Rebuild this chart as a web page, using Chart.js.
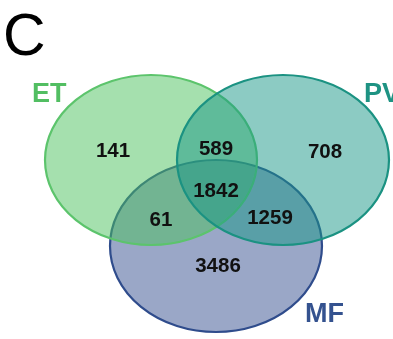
<!DOCTYPE html>
<html>
<head>
<meta charset="utf-8">
<script src="https://cdn.jsdelivr.net/npm/chart.js@4"></script>
<style>
  html, body { margin: 0; padding: 0; background: #fff; }
  canvas { display: block; }
</style>
</head>
<body>
<canvas id="venn" width="393" height="339"></canvas>
<script>
// set names and region counts
var setNames = ['ET', 'PV', 'MF'];
var regionNames = ['ET', 'ET+PV', 'PV', 'ET+PV+MF', 'ET+MF', 'PV+MF', 'MF'];
var regionCounts = [141, 589, 708, 1842, 61, 1259, 3486];

// layout (chart units = pixels of the 393x339 panel)
var ellipses = [
    { cx: 151, cy: 160, rx: 106, ry: 85, fill: 'rgba(76,193,94,0.5)', stroke: '#5cc46c', text: '#52be62', lx: 32, ly: 102 },
    { cx: 283, cy: 160, rx: 106, ry: 85, fill: 'rgba(26,151,136,0.5)', stroke: '#1b9282', text: '#1e9383', lx: 364, ly: 102 },
    { cx: 216, cy: 246, rx: 106, ry: 86, fill: 'rgba(53,79,143,0.5)', stroke: '#2f4c8c', text: '#34528f', lx: 305, ly: 322 }
];
var drawOrder = [2, 0, 1]; // MF at the bottom, PV on top
var regionPos = [
    { x: 113, y: 150 }, { x: 216, y: 148 }, { x: 325, y: 151 },
    { x: 216, y: 190 }, { x: 161, y: 219 }, { x: 270, y: 217 }, { x: 218, y: 265 }
];

var vennPlugin = {
    id: 'venn',
    beforeDatasetsDraw: function (chart) {
        var ctx = chart.ctx, xs = chart.scales.x, ys = chart.scales.y;
        ctx.save();
        drawOrder.forEach(function (k) {
            var e = ellipses[k];
            var cx = xs.getPixelForValue(e.cx), cy = ys.getPixelForValue(e.cy);
            var rx = Math.abs(xs.getPixelForValue(e.cx + e.rx) - cx);
            var ry = Math.abs(ys.getPixelForValue(e.cy + e.ry) - cy);
            ctx.beginPath();
            ctx.ellipse(cx, cy, rx, ry, 0, 0, Math.PI * 2);
            ctx.fillStyle = e.fill;
            ctx.fill();
            ctx.lineWidth = 2.2;
            ctx.strokeStyle = e.stroke;
            ctx.stroke();
        });
        ctx.restore();
    },
    afterDatasetsDraw: function (chart) {
        var ctx = chart.ctx, xs = chart.scales.x, ys = chart.scales.y;
        var meta = chart.getDatasetMeta(0);
        ctx.save();
        // region counts
        ctx.font = 'bold 20.5px "Liberation Sans", Arial, sans-serif';
        ctx.fillStyle = '#111';
        ctx.textAlign = 'center';
        ctx.textBaseline = 'middle';
        meta.data.forEach(function (pt, i) {
            ctx.fillText(String(regionCounts[i]), pt.x, pt.y + 1);
        });
        // set labels
        ctx.font = 'bold 27px "Liberation Sans", Arial, sans-serif';
        ctx.textAlign = 'left';
        ctx.textBaseline = 'alphabetic';
        ellipses.forEach(function (e, i) {
            ctx.fillStyle = e.text;
            ctx.fillText(setNames[i], xs.getPixelForValue(e.lx), ys.getPixelForValue(e.ly));
        });
        // panel letter
        ctx.font = '59px "Liberation Sans", Arial, sans-serif';
        ctx.fillStyle = '#000';
        ctx.fillText('C', xs.getPixelForValue(3), ys.getPixelForValue(55));
        ctx.restore();
    }
};

new Chart(document.getElementById('venn'), {
    type: 'scatter',
    data: {
        labels: regionNames,
        datasets: [{
            label: 'regions',
            data: regionPos,
            pointRadius: 0,
            pointHoverRadius: 0
        }]
    },
    options: {
        responsive: false,
        animation: false,
        layout: { padding: 0 },
        plugins: { legend: { display: false }, tooltip: { enabled: false } },
        scales: {
            x: { type: 'linear', min: 0, max: 393, display: false },
            y: { type: 'linear', min: 0, max: 339, reverse: true, display: false }
        }
    },
    plugins: [vennPlugin]
});
</script>
</body>
</html>
